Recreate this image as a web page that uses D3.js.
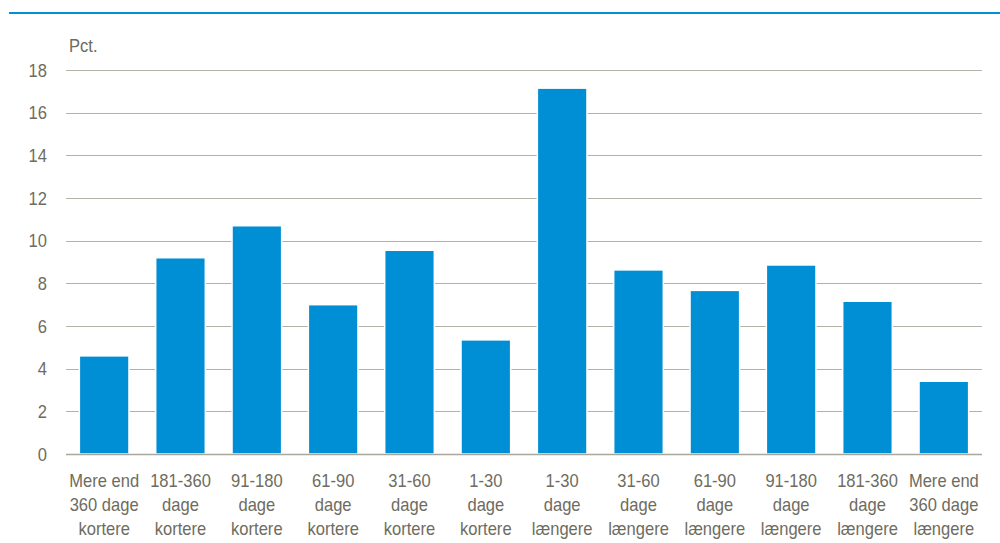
<!DOCTYPE html>
<html>
<head>
<meta charset="utf-8">
<script src="https://cdn.jsdelivr.net/npm/d3@7"></script>
<style>
  html, body { margin: 0; padding: 0; background: #fff; }
  svg { display: block; }
  text { font-family: "Liberation Sans", Arial, sans-serif; fill: #6e6c60; }
</style>
</head>
<body>
<svg id="chart" width="1000" height="543"></svg>
<script>
const categories = [
  ["Mere end", "360 dage", "kortere"],
  ["181-360", "dage", "kortere"],
  ["91-180", "dage", "kortere"],
  ["61-90", "dage", "kortere"],
  ["31-60", "dage", "kortere"],
  ["1-30", "dage", "kortere"],
  ["1-30", "dage", "længere"],
  ["31-60", "dage", "længere"],
  ["61-90", "dage", "længere"],
  ["91-180", "dage", "længere"],
  ["181-360", "dage", "længere"],
  ["Mere end", "360 dage", "længere"]
];
const values = [4.6, 9.2, 10.7, 7.0, 9.55, 5.35, 17.15, 8.63, 7.67, 8.86, 7.16, 3.41];
const yTicks = [0, 2, 4, 6, 8, 10, 12, 14, 16, 18];
const yUnit = "Pct.";

(function () {
const svg = d3.select("#chart");
const pLeft = 66, pRight = 982, pTop = 70, pBottom = 454;
const fontSize = 18, sx = 0.92;

// top rule
svg.append("line").attr("x1", 9).attr("x2", 1000).attr("y1", 13).attr("y2", 13)
  .attr("stroke", "#0090d4").attr("stroke-width", 2);

const x = d3.scaleBand().domain(d3.range(categories.length)).range([pLeft, pRight])
  .paddingInner(0.35).paddingOuter(0.175);
const y = d3.scaleLinear().domain([0, 18]).range([pBottom, pTop]);

// gridlines
svg.append("g").selectAll("line").data(yTicks).join("line")
  .attr("x1", pLeft).attr("x2", pRight)
  .attr("y1", d => Math.round(y(d)) + 0.5).attr("y2", d => Math.round(y(d)) + 0.5)
  .attr("stroke", "#b3b1a6").attr("stroke-width", 1.2);

// y tick labels
svg.append("g").selectAll("text").data(yTicks).join("text")
  .attr("transform", d => `translate(47,${y(d) + 6.5}) scale(${sx},1)`)
  .attr("text-anchor", "end").attr("font-size", fontSize)
  .text(d => d);

// unit label
svg.append("text").attr("transform", `translate(69,52) scale(${sx},1)`)
  .attr("font-size", fontSize).text(yUnit);

// bars
svg.append("g").selectAll("rect").data(values).join("rect")
  .attr("x", (d, i) => x(i)).attr("width", x.bandwidth())
  .attr("y", d => y(d)).attr("height", d => y(0) - y(d))
  .attr("fill", "#008fd5").attr("stroke", "#ffffff").attr("stroke-width", 1.5);

// baseline
svg.append("line").attr("x1", pLeft).attr("x2", pRight)
  .attr("y1", y(0) + 0.5).attr("y2", y(0) + 0.5)
  .attr("stroke", "#a9a79b").attr("stroke-width", 1.5);

// x labels
const xl = svg.append("g").selectAll("g").data(categories).join("g")
  .attr("transform", (d, i) => `translate(${x(i) + x.bandwidth() / 2},0)`);
xl.each(function (lines) {
  d3.select(this).selectAll("text").data(lines).join("text")
    .attr("transform", (t, j) => `translate(0,${487 + j * 24}) scale(${sx},1)`)
    .attr("text-anchor", "middle").attr("font-size", fontSize)
    .text(t => t);
});
})();
</script>
</body>
</html>
